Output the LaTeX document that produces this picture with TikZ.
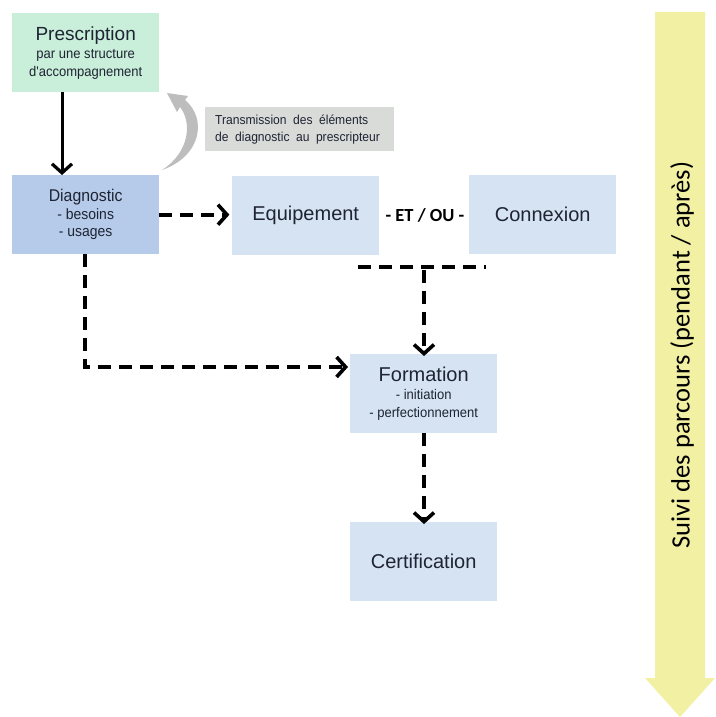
\documentclass[tikz,border=0pt]{standalone}
\usepackage{fontspec}
\setmainfont{Liberation Sans}
\newfontfamily\narrowf[FakeStretch=0.93]{Liberation Sans}
\newfontfamily\calib{Carlito}
\usetikzlibrary{arrows.meta}
\definecolor{pgreen}{HTML}{C9EED9}
\definecolor{dblue}{HTML}{B6CAEA}
\definecolor{lblue}{HTML}{D6E3F3}
\definecolor{lgray}{HTML}{D9DBD9}
\definecolor{garrow}{HTML}{BDBDBD}
\definecolor{yarrow}{HTML}{F2F0A2}
\definecolor{txt}{HTML}{1E2433}
\tikzset{
  box/.style={anchor=north west, inner sep=0pt, minimum width=147pt, minimum height=79pt, align=center, text=txt},
  big/.style={font=\fontsize{20}{24}\selectfont},
  small/.style={font=\narrowf\fontsize{14}{17.5}\selectfont},
  dsh/.style={line width=3.6pt, dash pattern=on 13pt off 8pt},
  tip/.style={-{Straight Barb[length=9pt,width=20pt,line width=3.6pt]}},
}
\begin{document}
\begin{tikzpicture}[x=1pt,y=-1pt]
\useasboundingbox (0,0) rectangle (715,717);
\fill[white] (0,0) rectangle (715,717);

% yellow arrow
\fill[yarrow] (655,12) -- (705,12) -- (705,678) -- (715,678) -- (680,717) -- (645,678) -- (655,678) -- cycle;
\node[rotate=90, font=\calib\fontsize{26.5}{30}\selectfont, text=black] (suivi) at (682,355) {Suivi des parcours (pendant / après)};

% boxes
\node[box, fill=pgreen, small] (presc) at (12,13) {{\rmfamily\fontsize{19}{22}\selectfont Prescription}\\[1pt]par une structure\\d'accompagnement};
\node[box, fill=dblue, small] (diag) at (12,175) {{\fontsize{17}{20}\selectfont Diagnostic}\\[0pt]{\fontsize{15}{18}\selectfont - besoins}\\{\fontsize{15}{18}\selectfont - usages}};
\node[box, fill=lblue, big] (equip) at (232,176) {Equipement};
\node[box, fill=lblue, big] (conn) at (469,175) {Connexion};
\node[box, fill=lblue, small] (form) at (350,354) {{\rmfamily\fontsize{20}{23}\selectfont Formation}\\[1pt]- initiation\\- perfectionnement};
\node[box, fill=lblue, big] (cert) at (350,522) {Certification};
\node[anchor=north west, fill=lgray, minimum height=44pt, inner sep=0pt, inner xsep=10pt, align=left, text=txt, font=\narrowf\fontsize{13}{17}\selectfont, text width=169pt] (trans) at (205,107) {Transmission\, des\, éléments\\de\, diagnostic\, au\, prescripteur};
\node[font=\calib\bfseries\fontsize{18.5}{22}\selectfont, text=black] (etou) at (425,215) {- ET / OU -};

% connectors
\draw[line width=3pt, -{Straight Barb[length=9pt,width=20pt,line width=3.2pt]}] (presc.south -| 62,0) -- (diag.north -| 62,0);
% grey curved return arrow (crescent)
\fill[garrow] (162,170) .. controls (202,156) and (207,118) .. (185,100)
  -- (188,96) -- (167,93) -- (177,112) -- (180,107)
  .. controls (192,122) and (190,152) .. (162,170) -- cycle;

\draw[dsh, tip] (diag.east) -- ++(70,0);
\draw[dsh, tip] (diag.south -| 85,0) -- (85,367) -- ([xshift=-2pt]form.west |- 0,367);
\coordinate (hl) at (358,267);
\coordinate (hr) at (486,267);
\draw[dsh] (hl) -- (hr);
\draw[dsh, tip] (424,270) -- ([yshift=-2pt]form.north -| 424,0);
\draw[dsh, tip] (form.south -| 424,0) -- ([yshift=-2pt]cert.north -| 424,0);
\end{tikzpicture}
\end{document}
